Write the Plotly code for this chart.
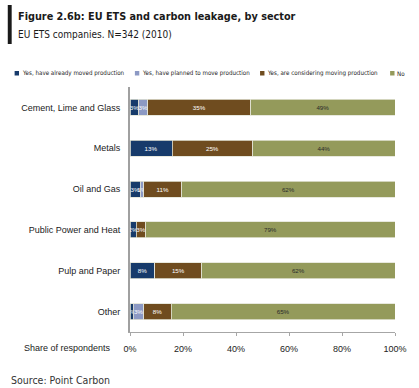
import plotly.graph_objects as go

# ---- data ----
sectors = ["Cement, Lime and Glass", "Metals", "Oil and Gas",
           "Public Power and Heat", "Pulp and Paper", "Other"]
series_names = ["Yes, have already moved production",
                "Yes, have planned to move production",
                "Yes, are considering moving production",
                "No"]
already_moved = [3, 13, 3, 2, 8, 1]
planned_move = [3, 0, 1, 0, 0, 3]
considering = [35, 25, 11, 3, 15, 8]
no_move = [49, 44, 62, 79, 62, 65]
x_ticks = [0, 20, 40, 60, 80, 100]

series_values = [already_moved, planned_move, considering, no_move]
colors = ["#173B6B", "#8C99C4", "#6F4C1F", "#949A5B"]
label_colors = ["#FFFFFF", "#FFFFFF", "#FFFFFF", "#2A2A2A"]

COND = "DejaVu Sans Condensed, Liberation Sans"

W, H = 419, 388
L, R, T, B = 130, 18, 87, 56
PW, PH = W - L - R, H - T - B


def px(x):
    return (x - L) / PW


def py(y):
    return (H - B - y) / PH


fig = go.Figure()
for name, vals, col, tcol in zip(series_names, series_values, colors, label_colors):
    fig.add_trace(go.Bar(
        name=name, y=sectors, x=vals, orientation="h",
        marker=dict(color=col, line=dict(color="#E2E3D6", width=0.8)),
        text=[f"{v}%" if v > 0 else "" for v in vals],
        textposition="inside", insidetextanchor="middle", textangle=0,
        textfont=dict(size=6.2, color=tcol, family="Liberation Sans"),
        showlegend=False,
    ))

fig.update_layout(
    width=W, height=H,
    margin=dict(l=L, r=R, t=T, b=B),
    paper_bgcolor="white", plot_bgcolor="white",
    barmode="stack", barnorm="percent", bargap=0.61,
    uniformtext=dict(minsize=6.2, mode="show"),
    font=dict(family="Liberation Sans", color="#222222"),
    showlegend=False,
)
fig.update_xaxes(
    range=[0, 100], tickvals=x_ticks, ticktext=[f"{v}%" for v in x_ticks],
    showgrid=False, zeroline=False,
    showline=True, linecolor="#A6A6A6", linewidth=1,
    ticks="outside", ticklen=3, tickcolor="#A6A6A6",
    tickfont=dict(size=9, color="#222222"), ticklabelstandoff=5,
)
fig.update_yaxes(
    categoryorder="array", categoryarray=sectors, autorange="reversed",
    showgrid=False, zeroline=False,
    showline=True, linecolor="#A0A0A0", linewidth=2,
    ticks="", tickfont=dict(size=9, color="#222222"), ticklabelstandoff=6,
)

shapes = [dict(type="rect", xref="paper", yref="paper",
               x0=px(5), x1=px(9), y0=py(44), y1=py(5),
               fillcolor="#1A1A1A", line=dict(width=0))]
annotations = [
    dict(text="<b>Figure 2.6b: EU ETS and carbon leakage, by sector</b>",
         x=px(13), y=py(17), font=dict(size=10.8, family=COND, color="#1A1A1A")),
    dict(text="EU ETS companies. N=342 (2010)",
         x=px(13), y=py(34), font=dict(size=10, family=COND, color="#1A1A1A")),
    dict(text="Share of respondents",
         x=px(113), y=py(348), xanchor="right",
         font=dict(size=9, family="Liberation Sans", color="#222222")),
    dict(text="Source: Point Carbon",
         x=px(6), y=py(380), font=dict(size=10.5, family=COND, color="#333333")),
]

legend_x = [12, 135, 263, 396]
for lx, name, col in zip(legend_x, series_names, colors):
    shapes.append(dict(type="rect", xref="paper", yref="paper",
                       x0=px(lx), x1=px(lx + 4.5), y0=py(75.5), y1=py(71),
                       fillcolor=col, line=dict(width=0)))
    annotations.append(dict(text=name, x=px(lx + 5.5), y=py(73.3),
                            font=dict(size=6.2, family=COND, color="#222222")))

for a in annotations:
    a.setdefault("xanchor", "left")
    a.update(xref="paper", yref="paper", yanchor="middle", showarrow=False)

fig.update_layout(shapes=shapes, annotations=annotations)
fig.write_html("out.html", config={"displayModeBar": False},
               post_script="document.body.style.margin='0';")
